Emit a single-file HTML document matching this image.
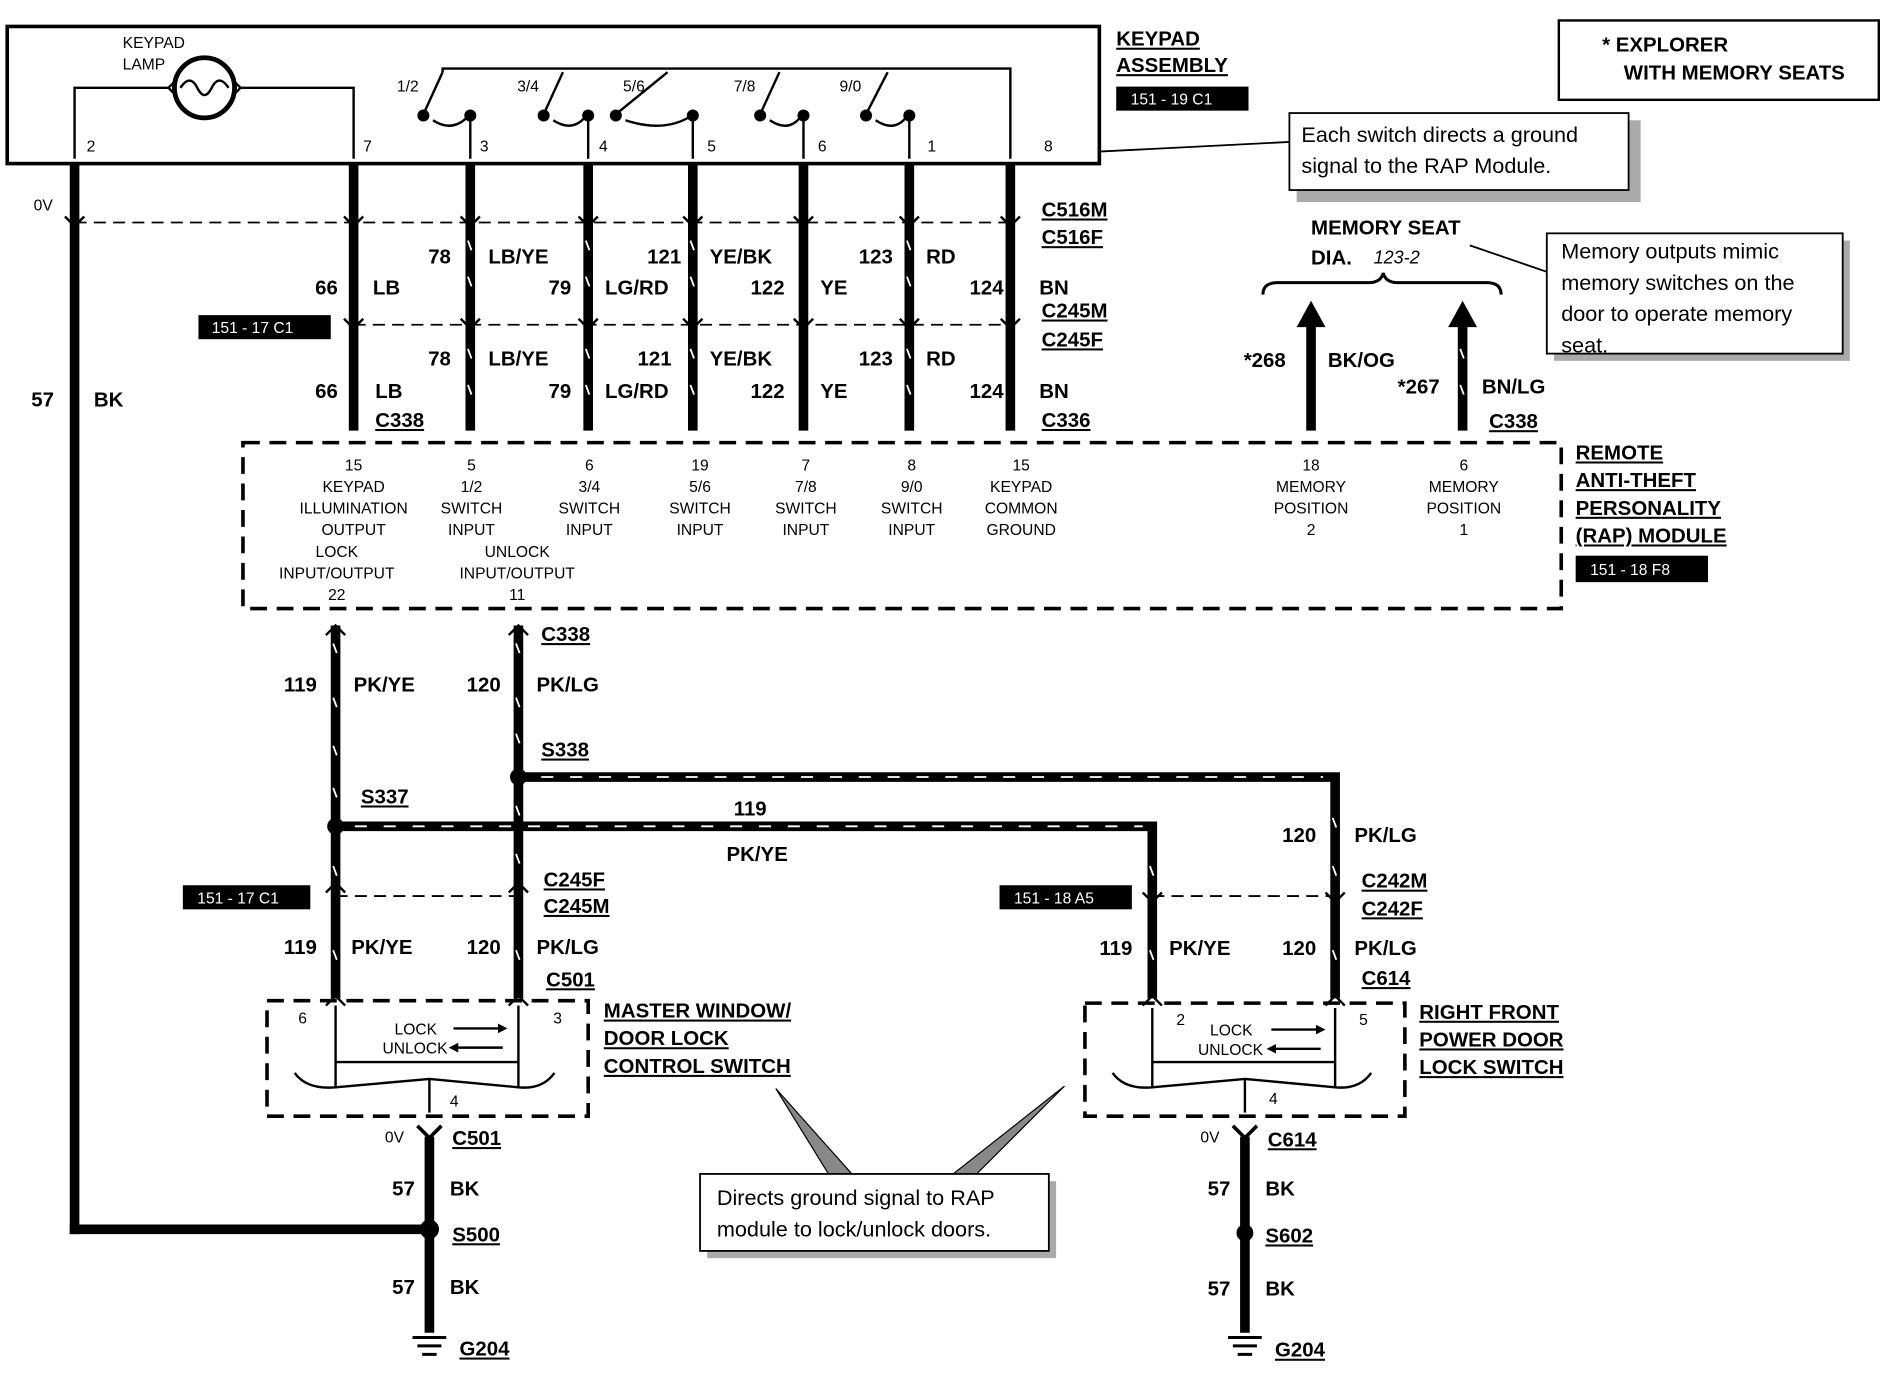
<!DOCTYPE html>
<html><head><meta charset="utf-8"><style>
html,body{margin:0;padding:0;background:#fff;}
svg{display:block;}
text{font-family:"Liberation Sans",Arial,sans-serif;fill:#000;}
.b{font-weight:bold;font-size:17px;}
.s{font-size:13px;}
.u{text-decoration:underline;}
</style></head><body>
<svg width="1886" height="1376" viewBox="0 0 1568 1144" preserveAspectRatio="none" xmlns="http://www.w3.org/2000/svg">
<defs>
<marker id="ar" viewBox="0 0 10 10" refX="5" refY="5" markerWidth="4" markerHeight="4" orient="auto"><path d="M0,0 L10,5 L0,10 z"/></marker>
</defs>
<!-- keypad box -->
<rect x="6" y="22" width="908" height="114" fill="none" stroke="#000" stroke-width="3"/>
<text x="102" y="40" class="s">KEYPAD</text><text x="102" y="58" class="s">LAMP</text>
<polyline points="62,132 62,73 140,73" fill="none" stroke="#000" stroke-width="2"/>
<polyline points="200,73 294,73 294,132" fill="none" stroke="#000" stroke-width="2"/>
<circle cx="170" cy="73" r="25" fill="none" stroke="#000" stroke-width="4"/>
<path d="M150,73 q8,-12 14,0 q6,12 12,0 q6,-12 14,0" fill="none" stroke="#000" stroke-width="2"/>
<path d="M140,73 l6,-6 M140,73 l6,6 M200,73 l-6,-6 M200,73 l-6,6" stroke="#000" stroke-width="2"/>
<!-- switches -->
<g stroke="#000" stroke-width="2" fill="none">
<polyline points="368,60 368,57 840,57 840,132"/>
<path d="M368,60 L352,95 M368,60 l0,0"/><circle cx="352" cy="96" r="4" fill="#000"/><line x1="391" y1="96" x2="391" y2="132"/><circle cx="391" cy="96" r="4" fill="#000"/><path d="M360,100 q15,10 28,-2"/>
<path d="M468,60 L452,95"/><circle cx="452" cy="96" r="4" fill="#000"/><line x1="489" y1="96" x2="489" y2="132"/><circle cx="489" cy="96" r="4" fill="#000"/><path d="M460,100 q15,10 26,-2"/>
<path d="M555,60 L512,95"/><circle cx="512" cy="96" r="4" fill="#000"/><line x1="576" y1="96" x2="576" y2="132"/><circle cx="576" cy="96" r="4" fill="#000"/><path d="M520,100 q30,10 52,-2"/>
<path d="M648,60 L632,95"/><circle cx="632" cy="96" r="4" fill="#000"/><line x1="668" y1="96" x2="668" y2="132"/><circle cx="668" cy="96" r="4" fill="#000"/><path d="M640,100 q15,10 25,-2"/>
<path d="M738,60 L720,95"/><circle cx="720" cy="96" r="4" fill="#000"/><line x1="756" y1="96" x2="756" y2="132"/><circle cx="756" cy="96" r="4" fill="#000"/><path d="M728,100 q15,10 25,-2"/>
</g>
<g class="s"><text x="330" y="76">1/2</text><text x="430" y="76">3/4</text><text x="518" y="76">5/6</text><text x="610" y="76">7/8</text><text x="698" y="76">9/0</text>
<text x="72" y="126">2</text><text x="302" y="126">7</text><text x="399" y="126">3</text><text x="498" y="126">4</text><text x="588" y="126">5</text><text x="680" y="126">6</text><text x="771" y="126">1</text><text x="868" y="126">8</text></g>
<text x="928" y="38" class="b u">KEYPAD</text><text x="928" y="60" class="b u">ASSEMBLY</text>
<rect x="928" y="72" width="110" height="20" fill="#000"/><text x="940" y="87" class="s" style="fill:#fff">151 - 19 C1</text>
<!-- explorer box -->
<rect x="1296" y="17" width="266" height="66" fill="none" stroke="#000" stroke-width="2"/>
<text x="1332" y="43" class="b">* EXPLORER</text><text x="1350" y="66" class="b">WITH MEMORY SEATS</text>
<!-- callout 1 -->
<rect x="1078" y="100" width="286" height="68" fill="#aaa"/>
<rect x="1072" y="94" width="282" height="64" fill="#fff" stroke="#000" stroke-width="1.5"/>
<text x="1082" y="118" style="font-size:18px">Each switch directs a ground</text><text x="1082" y="144" style="font-size:18px">signal to the RAP Module.</text>
<line x1="914" y1="126" x2="1072" y2="118" stroke="#000" stroke-width="1.5"/>
<!-- vertical wires top -->
<g stroke="#000" stroke-width="8">
<line x1="62" y1="136" x2="62" y2="1026"/><line x1="58" y1="1022" x2="357" y2="1022"/>
<line x1="294" y1="136" x2="294" y2="358"/><line x1="391" y1="136" x2="391" y2="358"/><line x1="489" y1="136" x2="489" y2="358"/>
<line x1="576" y1="136" x2="576" y2="358"/><line x1="668" y1="136" x2="668" y2="358"/><line x1="756" y1="136" x2="756" y2="358"/><line x1="840" y1="136" x2="840" y2="358"/>
<line x1="1090" y1="262" x2="1090" y2="358"/><line x1="1216" y1="262" x2="1216" y2="358"/>
</g>
<g stroke="#fff" stroke-width="1.5">
<path d="M389,200 l3,8 M389,230 l3,8 M389,290 l3,8 M389,320 l3,8 M487,200 l3,8 M487,230 l3,8 M487,290 l3,8 M487,320 l3,8 M574,200 l3,8 M574,230 l3,8 M574,290 l3,8 M574,320 l3,8 M754,200 l3,8 M754,230 l3,8 M754,290 l3,8 M754,320 l3,8 M1214,290 l3,8 M1214,320 l3,8"/>
</g>
<path d="M1078,272 L1090,250 L1102,272 z M1204,272 L1216,250 L1228,272 z"/>
<g fill="none" stroke="#000" stroke-width="1.5" stroke-dasharray="10,6">
<line x1="62" y1="185" x2="840" y2="185"/><line x1="294" y1="270" x2="840" y2="270"/>
</g>
<g fill="none" stroke="#000" stroke-width="2">
<path d="M54,180 l8,8 l8,-8 M286,180 l8,8 l8,-8 M383,180 l8,8 l8,-8 M481,180 l8,8 l8,-8 M568,180 l8,8 l8,-8 M660,180 l8,8 l8,-8 M748,180 l8,8 l8,-8 M832,180 l8,8 l8,-8"/>
<path d="M286,265 l8,8 l8,-8 M383,265 l8,8 l8,-8 M481,265 l8,8 l8,-8 M568,265 l8,8 l8,-8 M660,265 l8,8 l8,-8 M748,265 l8,8 l8,-8 M832,265 l8,8 l8,-8"/>
</g>
<text x="28" y="175" class="s">0V</text>
<g class="b">
<text x="866" y="180" class="u">C516M</text><text x="866" y="203" class="u">C516F</text>
<text x="356" y="219">78</text><text x="406" y="219">LB/YE</text><text x="538" y="219">121</text><text x="590" y="219">YE/BK</text><text x="714" y="219">123</text><text x="770" y="219">RD</text>
<text x="262" y="245">66</text><text x="310" y="245">LB</text><text x="456" y="245">79</text><text x="503" y="245">LG/RD</text><text x="624" y="245">122</text><text x="682" y="245">YE</text><text x="806" y="245">124</text><text x="864" y="245">BN</text>
<text x="866" y="264" class="u">C245M</text><text x="866" y="288" class="u">C245F</text>
<text x="356" y="304">78</text><text x="406" y="304">LB/YE</text><text x="530" y="304">121</text><text x="590" y="304">YE/BK</text><text x="714" y="304">123</text><text x="770" y="304">RD</text>
<text x="262" y="331">66</text><text x="312" y="331">LB</text><text x="456" y="331">79</text><text x="503" y="331">LG/RD</text><text x="624" y="331">122</text><text x="682" y="331">YE</text><text x="806" y="331">124</text><text x="864" y="331">BN</text>
<text x="312" y="355" class="u">C338</text><text x="866" y="355" class="u">C336</text>
<text x="26" y="338">57</text><text x="78" y="338">BK</text>
<text x="1090" y="195">MEMORY SEAT</text><text x="1090" y="220">DIA.</text>
<text x="1034" y="305">*268</text><text x="1104" y="305">BK/OG</text><text x="1162" y="327">*267</text><text x="1232" y="327">BN/LG</text>
<text x="1238" y="356" class="u">C338</text>
</g>
<text x="1142" y="219" style="font-size:15px;font-style:italic">123-2</text>
<path d="M1050,245 q0,-10 12,-10 L1138,235 q10,0 12,-8 q2,8 12,8 L1236,235 q12,0 12,10" fill="none" stroke="#000" stroke-width="2.5"/>
<rect x="165" y="262" width="110" height="20" fill="#000"/><text x="176" y="277" class="s" style="fill:#fff">151 - 17 C1</text>
<!-- callout 2 -->
<rect x="1292" y="200" width="246" height="100" fill="#aaa"/>
<rect x="1286" y="194" width="246" height="100" fill="#fff" stroke="#000" stroke-width="1.5"/>
<g style="font-size:18px"><text x="1298" y="215">Memory outputs mimic</text><text x="1298" y="241">memory switches on the</text><text x="1298" y="267">door to operate memory</text><text x="1298" y="293">seat.</text></g>
<line x1="1222" y1="204" x2="1286" y2="226" stroke="#000" stroke-width="1.5"/>
<!-- RAP box -->
<rect x="202" y="368" width="1096" height="138" fill="none" stroke="#000" stroke-width="3" stroke-dasharray="14,8"/>
<g class="s" text-anchor="middle">
<text x="294" y="391">15</text><text x="294" y="409">KEYPAD</text><text x="294" y="427">ILLUMINATION</text><text x="294" y="445">OUTPUT</text>
<text x="280" y="463">LOCK</text><text x="280" y="481">INPUT/OUTPUT</text><text x="280" y="499">22</text>
<text x="392" y="391">5</text><text x="392" y="409">1/2</text><text x="392" y="427">SWITCH</text><text x="392" y="445">INPUT</text>
<text x="430" y="463">UNLOCK</text><text x="430" y="481">INPUT/OUTPUT</text><text x="430" y="499">11</text>
<text x="490" y="391">6</text><text x="490" y="409">3/4</text><text x="490" y="427">SWITCH</text><text x="490" y="445">INPUT</text>
<text x="582" y="391">19</text><text x="582" y="409">5/6</text><text x="582" y="427">SWITCH</text><text x="582" y="445">INPUT</text>
<text x="670" y="391">7</text><text x="670" y="409">7/8</text><text x="670" y="427">SWITCH</text><text x="670" y="445">INPUT</text>
<text x="758" y="391">8</text><text x="758" y="409">9/0</text><text x="758" y="427">SWITCH</text><text x="758" y="445">INPUT</text>
<text x="849" y="391">15</text><text x="849" y="409">KEYPAD</text><text x="849" y="427">COMMON</text><text x="849" y="445">GROUND</text>
<text x="1090" y="391">18</text><text x="1090" y="409">MEMORY</text><text x="1090" y="427">POSITION</text><text x="1090" y="445">2</text>
<text x="1217" y="391">6</text><text x="1217" y="409">MEMORY</text><text x="1217" y="427">POSITION</text><text x="1217" y="445">1</text>
</g>
<g class="b"><text x="1310" y="382" class="u">REMOTE</text><text x="1310" y="405" class="u">ANTI-THEFT</text><text x="1310" y="428" class="u">PERSONALITY</text><text x="1310" y="451" class="u">(RAP) MODULE</text></g>
<rect x="1310" y="462" width="110" height="22" fill="#000"/><text x="1322" y="478" class="s" style="fill:#fff">151 - 18 F8</text>
<!-- lower wires -->
<g stroke="#000" stroke-width="8" fill="none">
<line x1="279" y1="520" x2="279" y2="830"/><line x1="431" y1="520" x2="431" y2="830"/>
<polyline points="431,646 1110,646 1110,830"/><polyline points="279,687 958,687 958,830"/>
</g>
<g stroke="#fff" stroke-width="1.5" fill="none">
<line x1="450" y1="646" x2="1100" y2="646" stroke-dasharray="10,14"/><line x1="295" y1="687" x2="950" y2="687" stroke-dasharray="10,14"/>
<path d="M277,535 l3,8 M277,580 l3,8 M277,620 l3,8 M277,655 l3,8 M277,720 l3,8 M277,790 l3,8 M429,535 l3,8 M429,580 l3,8 M429,610 l3,8 M429,670 l3,8 M429,710 l3,8 M429,790 l3,8 M956,720 l3,8 M956,790 l3,8 M1108,680 l3,8 M1108,720 l3,8 M1108,790 l3,8"/>
</g>
<path d="M271,528 l8,-8 l8,8 M423,528 l8,-8 l8,8" fill="none" stroke="#000" stroke-width="2"/>
<circle cx="279" cy="687" r="7"/><circle cx="431" cy="646" r="7"/>
<g fill="none" stroke="#000" stroke-width="1.5" stroke-dasharray="10,6"><line x1="279" y1="745" x2="431" y2="745"/><line x1="958" y1="745" x2="1110" y2="745"/></g>
<path d="M271,742 l8,-8 l8,8 M423,742 l8,-8 l8,8 M950,742 l8,8 l8,-8 M1102,742 l8,8 l8,-8 M271,836 l8,-8 l8,8 M423,836 l8,-8 l8,8 M950,836 l8,-8 l8,8 M1102,836 l8,-8 l8,8" fill="none" stroke="#000" stroke-width="2"/>
<g class="b">
<text x="450" y="533" class="u">C338</text>
<text x="236" y="575">119</text><text x="294" y="575">PK/YE</text><text x="388" y="575">120</text><text x="446" y="575">PK/LG</text>
<text x="450" y="629" class="u">S338</text><text x="300" y="668" class="u">S337</text>
<text x="610" y="678">119</text><text x="604" y="716">PK/YE</text>
<text x="1066" y="700">120</text><text x="1126" y="700">PK/LG</text>
<text x="452" y="737" class="u">C245F</text><text x="452" y="759" class="u">C245M</text>
<text x="1132" y="738" class="u">C242M</text><text x="1132" y="761" class="u">C242F</text>
<text x="236" y="793">119</text><text x="292" y="793">PK/YE</text><text x="388" y="793">120</text><text x="446" y="793">PK/LG</text>
<text x="914" y="794">119</text><text x="972" y="794">PK/YE</text><text x="1066" y="794">120</text><text x="1126" y="794">PK/LG</text>
<text x="454" y="820" class="u">C501</text><text x="1132" y="819" class="u">C614</text>
<text x="502" y="846" class="u">MASTER WINDOW/</text><text x="502" y="869" class="u">DOOR LOCK</text><text x="502" y="892" class="u">CONTROL SWITCH</text>
<text x="1180" y="847" class="u">RIGHT FRONT</text><text x="1180" y="870" class="u">POWER DOOR</text><text x="1180" y="893" class="u">LOCK SWITCH</text>
<text x="376" y="952" class="u">C501</text><text x="1054" y="953" class="u">C614</text>
<text x="326" y="994">57</text><text x="374" y="994">BK</text><text x="1004" y="994">57</text><text x="1052" y="994">BK</text>
<text x="376" y="1032" class="u">S500</text><text x="1052" y="1033" class="u">S602</text>
<text x="326" y="1076">57</text><text x="374" y="1076">BK</text><text x="1004" y="1077">57</text><text x="1052" y="1077">BK</text>
<text x="382" y="1127" class="u">G204</text><text x="1060" y="1128" class="u">G204</text>
</g>
<rect x="152" y="736" width="106" height="20" fill="#000"/><text x="164" y="751" class="s" style="fill:#fff">151 - 17 C1</text>
<rect x="831" y="736" width="110" height="20" fill="#000"/><text x="843" y="751" class="s" style="fill:#fff">151 - 18 A5</text>
<!-- switch boxes -->
<g fill="none" stroke="#000" stroke-width="3" stroke-dasharray="14,8">
<rect x="222" y="832" width="267" height="96"/><rect x="902" y="834" width="266" height="94"/>
</g>
<g fill="none" stroke="#000" stroke-width="2">
<line x1="279" y1="836" x2="279" y2="905"/><line x1="431" y1="836" x2="431" y2="905"/><line x1="279" y1="883" x2="431" y2="883"/>
<path d="M245,892 q10,14 34,12 L357,897 L431,904 q20,2 30,-12"/><line x1="357" y1="897" x2="357" y2="925"/>
<line x1="958" y1="838" x2="958" y2="905"/><line x1="1110" y1="838" x2="1110" y2="905"/><line x1="958" y1="883" x2="1110" y2="883"/>
<path d="M925,892 q10,14 33,12 L1035,897 L1110,904 q20,2 30,-12"/><line x1="1035" y1="897" x2="1035" y2="925"/>
<line x1="377" y1="855" x2="418" y2="855" marker-end="url(#ar)"/><line x1="418" y1="871" x2="377" y2="871" marker-end="url(#ar)"/>
<line x1="1057" y1="856" x2="1098" y2="856" marker-end="url(#ar)"/><line x1="1098" y1="872" x2="1057" y2="872" marker-end="url(#ar)"/>
</g>
<g class="s"><text x="248" y="851">6</text><text x="460" y="851">3</text><text x="328" y="860">LOCK</text><text x="318" y="876">UNLOCK</text><text x="374" y="920">4</text>
<text x="978" y="852">2</text><text x="1130" y="852">5</text><text x="1006" y="861">LOCK</text><text x="996" y="877">UNLOCK</text><text x="1055" y="918">4</text>
<text x="320" y="950">0V</text><text x="998" y="950">0V</text></g>
<!-- lower ground wires -->
<g stroke="#000" stroke-width="8">
<line x1="357" y1="945" x2="357" y2="1108"/><line x1="1035" y1="945" x2="1035" y2="1108"/>
</g>
<path d="M347,936 l10,10 l10,-10 M1025,936 l10,10 l10,-10" fill="none" stroke="#000" stroke-width="3"/>
<circle cx="357" cy="1022" r="8"/><circle cx="1035" cy="1025" r="7"/>
<g stroke="#000" stroke-width="2.5"><path d="M343,1112 h28 M347,1119 h20 M351,1126 h12 M1021,1112 h28 M1025,1119 h20 M1029,1126 h12"/></g>
<!-- callout bottom -->
<path d="M645,905 L690,978 L710,978 z M885,903 L790,978 L810,978 z" fill="#888" stroke="#000" stroke-width="1"/>
<rect x="588" y="982" width="290" height="64" fill="#aaa"/>
<rect x="582" y="976" width="290" height="64" fill="#fff" stroke="#000" stroke-width="1.5"/>
<text x="596" y="1002" style="font-size:18px">Directs ground signal to RAP</text><text x="596" y="1028" style="font-size:18px">module to lock/unlock doors.</text>
</svg>
</body></html>
